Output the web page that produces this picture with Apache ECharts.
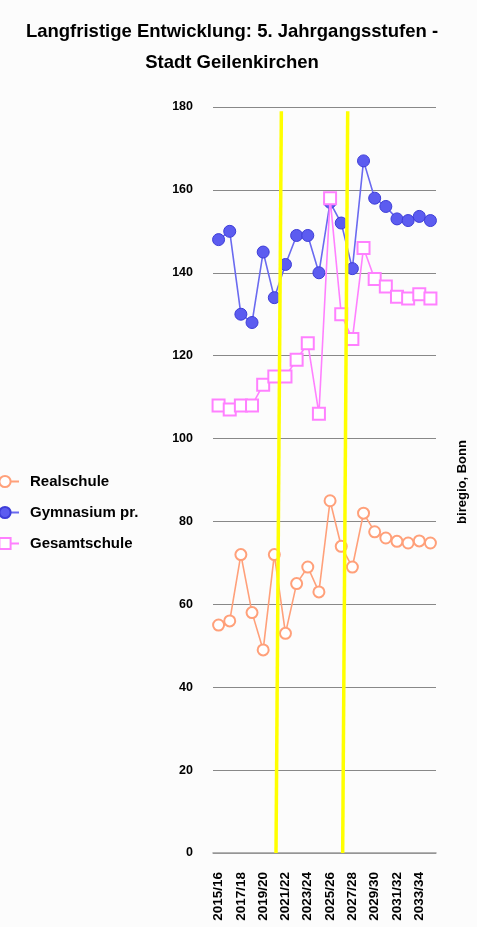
<!DOCTYPE html>
<html>
<head>
<meta charset="utf-8">
<script src="https://cdn.jsdelivr.net/npm/echarts@6/dist/echarts.min.js"></script>
<style>
html,body{margin:0;padding:0;background:#fcfcfc;}
#chart{width:477px;height:927px;}
</style>
</head>
<body>
<div id="chart"></div>
<script>
var categories = ['2015/16','2016/17','2017/18','2018/19','2019/20','2020/21','2021/22','2022/23','2023/24','2024/25',
  '2025/26','2026/27','2027/28','2028/29','2029/30','2030/31','2031/32','2032/33','2033/34','2034/35'];
var realschule = [55,56,72,58,49,72,53,65,69,63,85,74,69,82,77.5,76,75.2,74.8,75.3,74.8];
var gymnasium = [148,150,130,128,145,134,142,149,149,140,157,152,141,167,158,156,153,152.6,153.6,152.6];
var gesamtschule = [108,107,108,108,113,115,115,119,123,106,158,130,124,146,138.5,136.7,134.2,133.8,134.8,133.8];
var seriesNames = ['Realschule','Gymnasium pr.','Gesamtschule'];
var yTicks = {min:0, max:180, interval:20};
// yellow marker lines: category position at top and bottom, and y value of top
var yellowTop = [5.63, 11.58];
var yellowBottom = [5.15, 11.13];
var yellowTopValue = 179;

var font = '"Liberation Sans", Arial, Helvetica, sans-serif';
var chart = echarts.init(document.getElementById('chart'));

var yellowSeries = yellowTop.map(function(t, i){
  return {
    type:'line', xAxisIndex:1, yAxisIndex:0, silent:true, symbol:'none', z:5,
    data:[[t, yellowTopValue],[yellowBottom[i], 0]],
    lineStyle:{color:'#ffff00', width:3.5}
  };
});

chart.setOption({
  backgroundColor:'#fcfcfc',
  animation:false,
  textStyle:{fontFamily:font},
  title:{
    text:'Langfristige Entwicklung: 5. Jahrgangsstufen -\nStadt Geilenkirchen',
    left:227, top:11, textAlign:'center',
    textStyle:{fontFamily:font, fontSize:18.5, fontWeight:'bold', color:'#000', lineHeight:31}
  },
  legend:{
    data:seriesNames,
    orient:'vertical', left:-10, top:474, padding:0,
    itemWidth:28, itemHeight:14, itemGap:16,
    textStyle:{fontFamily:font, fontSize:15, fontWeight:'bold', color:'#000', padding:[0,0,0,6]}
  },
  grid:{left:213, right:41, top:107, bottom:74},
  xAxis:[{
    type:'category', data:categories, boundaryGap:true,
    axisLine:{show:true, lineStyle:{color:'#999', width:1.5}},
    axisTick:{show:false},
    axisLabel:{interval:1, rotate:90, margin:19, fontFamily:font, fontSize:13.5, fontWeight:'bold', color:'#000'},
    splitLine:{show:false}
  },{
    type:'value', min:-0.5, max:19.5, show:false
  }],
  yAxis:{
    type:'value', min:yTicks.min, max:yTicks.max, interval:yTicks.interval,
    axisLine:{show:false}, axisTick:{show:false},
    axisLabel:{margin:20, fontFamily:font, fontSize:12.5, fontWeight:'bold', color:'#000'},
    splitLine:{lineStyle:{color:'#888', width:1}}
  },
  graphic:[{
    type:'text', x:462, y:482, rotation:Math.PI/2,
    style:{text:'biregio, Bonn', fontFamily:font, fontSize:13, fontWeight:'bold', fill:'#000',
      textAlign:'center', textVerticalAlign:'middle'}
  }],
  series:[{
    name:seriesNames[0], type:'line', data:realschule, z:3, showAllSymbol:true,
    symbol:'emptyCircle', symbolSize:11,
    itemStyle:{color:'#ffa07a', borderWidth:1.8},
    lineStyle:{color:'#ffa07a', width:1.6}
  },{
    name:seriesNames[1], type:'line', data:gymnasium, z:3, showAllSymbol:true,
    symbol:'circle', symbolSize:12,
    itemStyle:{color:'#5c5cf0', borderColor:'#3d3dd8', borderWidth:1},
    lineStyle:{color:'#6a6af0', width:1.6}
  },{
    name:seriesNames[2], type:'line', data:gesamtschule, z:4, showAllSymbol:true,
    symbol:'emptyRect', symbolSize:12,
    itemStyle:{color:'#ff80ff', borderWidth:1.8},
    lineStyle:{color:'#ff80ff', width:1.6}
  }].concat(yellowSeries)
});
</script>
</body>
</html>
